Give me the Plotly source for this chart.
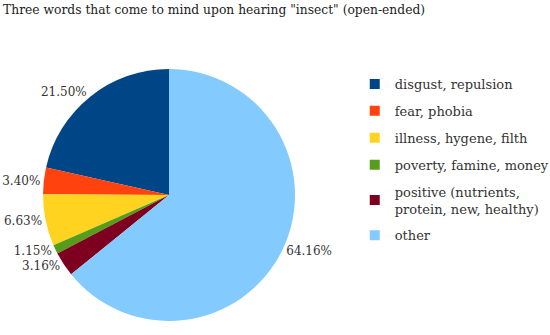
import plotly.graph_objects as go

categories = ["disgust, repulsion", "fear, phobia", "illness, hygene, filth",
              "poverty, famine, money", "positive (nutrients,<br>protein, new, healthy)", "other"]
values = [21.50, 3.40, 6.63, 1.15, 3.16, 64.16]
colors = ["#004586", "#ff420e", "#ffd320", "#579d1c", "#7e0021", "#83caff"]
text_labels = [f"{v:.2f}%" for v in values]

W, H = 550, 335
cx, cy, r = 169, 140, 126
FONT = "DejaVu Serif"

# plotly places the first slice clockwise of the start angle when drawing
# counterclockwise; rotate so the first slice begins at 12 o'clock going left
first_angle = 360 * values[0] / sum(values)

fig = go.Figure()
fig.add_trace(go.Pie(
    labels=categories, values=values, sort=False, direction="counterclockwise",
    rotation=-first_angle, marker=dict(colors=colors, line=dict(width=0)),
    text=text_labels, textinfo="text", textposition="outside",
    textfont=dict(family=FONT, size=12, color="#333"),
    domain=dict(x=[(cx - r) / W, (cx + r) / W], y=[(cy - r) / H, (cy + r) / H]),
    showlegend=False, hoverinfo="label+percent", automargin=False,
))

for name, col in zip(categories, colors):
    fig.add_trace(go.Scatter(
        x=[None], y=[None], mode="markers", name=name, legendgroup=name,
        marker=dict(symbol="square", size=10, color=col),
        showlegend=True,
    ))

fig.update_layout(
    width=W, height=H, margin=dict(l=0, r=0, t=0, b=0, autoexpand=False),
    paper_bgcolor="white", plot_bgcolor="white",
    font=dict(family=FONT, size=12, color="#333"),
    title=dict(text='Three words that come to mind upon hearing "insect" (open-ended)',
               x=0.0055, xanchor="left", y=0.97, yanchor="middle",
               font=dict(family=FONT, size=12.3, color="#222")),
    xaxis=dict(visible=False, domain=[0.66, 0.67]),
    yaxis=dict(visible=False, domain=[0.0, 0.01]),
    legend=dict(x=0.645, xanchor="left", y=0.794, yanchor="top",
                font=dict(family=FONT, size=13, color="#333"),
                tracegroupgap=7, traceorder="grouped", itemclick=False,
                bgcolor="rgba(0,0,0,0)"),
)

fig.write_html("out.html", config={"displayModeBar": False},
               post_script="document.body.style.margin='0';")
